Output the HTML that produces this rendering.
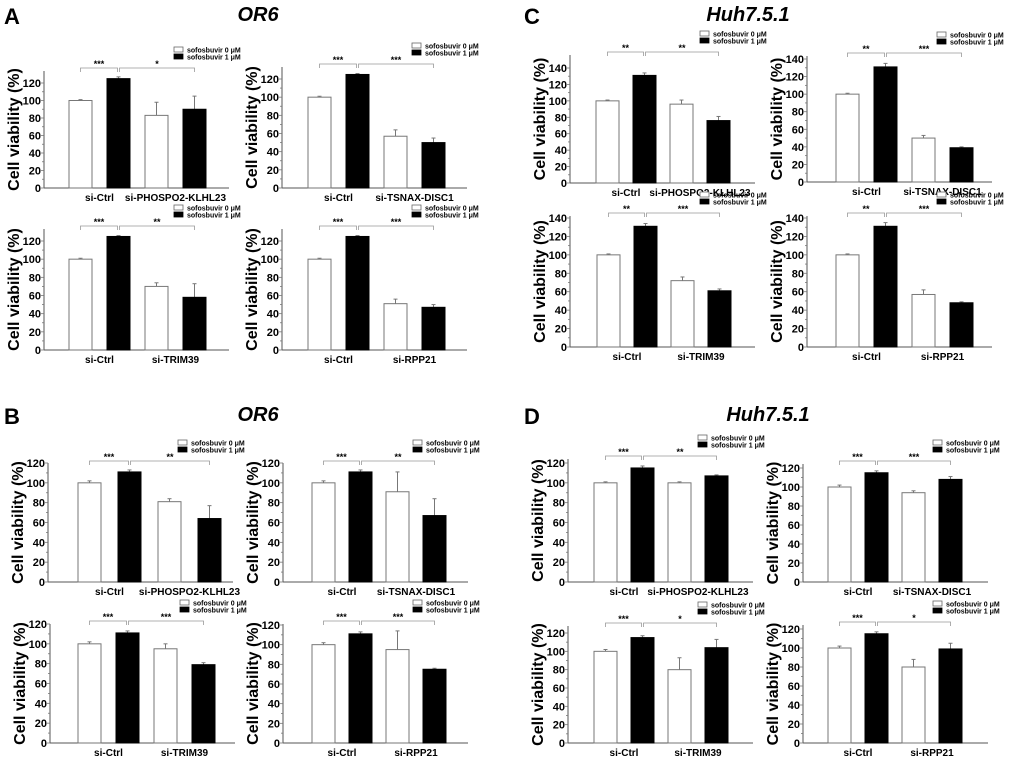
<!DOCTYPE html>
<html><head><meta charset="utf-8"><style>
html,body{margin:0;padding:0;background:#fff;}
svg{display:block;font-family:"Liberation Sans",Arial,sans-serif;}
</style></head><body>
<svg id="fig" width="1020" height="763" viewBox="0 0 1020 763">
<text x="4" y="24" font-size="22" font-weight="bold">A</text>
<text x="258" y="21" font-size="20" font-weight="bold" font-style="italic" text-anchor="middle">OR6</text>
<text x="524" y="24" font-size="22" font-weight="bold">C</text>
<text x="748" y="21" font-size="20" font-weight="bold" font-style="italic" text-anchor="middle">Huh7.5.1</text>
<text x="4" y="424" font-size="22" font-weight="bold">B</text>
<text x="258" y="421" font-size="20" font-weight="bold" font-style="italic" text-anchor="middle">OR6</text>
<text x="524" y="424" font-size="22" font-weight="bold">D</text>
<text x="768" y="421" font-size="20" font-weight="bold" font-style="italic" text-anchor="middle">Huh7.5.1</text>
</svg>
<script>
const panelNames = ["a1","a2","a3","a4","c1","c2","c3","c4","b1","b2","b3","b4","d1","d2","d3","d4"];
const groupLabels = [
 ["si-Ctrl","si-PHOSPO2-KLHL23"],["si-Ctrl","si-TSNAX-DISC1"],["si-Ctrl","si-TRIM39"],["si-Ctrl","si-RPP21"],
 ["si-Ctrl","si-PHOSPO2-KLHL23"],["si-Ctrl","si-TSNAX-DISC1"],["si-Ctrl","si-TRIM39"],["si-Ctrl","si-RPP21"],
 ["si-Ctrl","si-PHOSPO2-KLHL23"],["si-Ctrl","si-TSNAX-DISC1"],["si-Ctrl","si-TRIM39"],["si-Ctrl","si-RPP21"],
 ["si-Ctrl","si-PHOSPO2-KLHL23"],["si-Ctrl","si-TSNAX-DISC1"],["si-Ctrl","si-TRIM39"],["si-Ctrl","si-RPP21"]];
const barValues = [
 [100,125,83,90],[100,125,57,50],[100,125,70,58],[100,125,51,47],
 [100,131,96,76],[100,131,50,39],[100,131,72,61],[100,131,57,48],
 [100,111,81,64],[100,111,91,67],[100,111,95,79],[100,111,95,75],
 [100,115,100,107],[100,115,94,108],[100,115,80,104],[100,115,80,99]];
const barErrors = [
 [1,2,15,15],[1,1,7,5],[1,1,4,15],[1,1,5,3],
 [1,3,5,5],[1,4,3,1],[1,3,4,2],[1,4,5,1],
 [2,2,3,13],[2,2,20,17],[2,2,5,2],[2,2,19,1],
 [1,2,1,1],[2,2,2,3],[2,2,13,9],[2,2,8,6]];
const sigLabels = [
 ["***","*"],["***","***"],["***","**"],["***","***"],
 ["**","**"],["**","***"],["**","***"],["**","***"],
 ["***","**"],["***","**"],["***","***"],["***","***"],
 ["***","**"],["***","***"],["***","*"],["***","*"]];
const tickMaxes = [120,120,120,120,140,140,140,140,120,120,120,120,120,120,120,120];
const legendLabels = ["sofosbuvir 0 \u03bcM","sofosbuvir 1 \u03bcM"];
// layout: [axisX, zeroY, maxTickY, barOffset, barStep, bracketY]
const layout = [
 [44,188,83,25,38,68],[282,188,79,26,38,64],[44,350,241,25,38,226],[282,350,241,26,38,226],
 [570,183,68,26,37,52],[807,182,59,29,38,53],[570,347,218,27,37,213],[807,347,218,29,38,213],
 [48,582,463,30,40,461],[283,582,463,29,37,461],[50,743,624,28,38,621],[283,743,625,29,37,621],
 [568,582,463,26,37,456],[803,582,468,25,37,461],[568,743,633,26,37,623],[803,743,629,25,37,622]];
const NS="http://www.w3.org/2000/svg";
const svg=document.getElementById('fig');
function mk(tag,attrs,parent){const e=document.createElementNS(NS,tag);for(const k in attrs)e.setAttribute(k,attrs[k]);(parent||svg).appendChild(e);return e;}
panelNames.forEach((pn,p)=>{
  const [ax,y0,ytop,off,step,by]=layout[p];
  const tmax=tickMaxes[p];
  const yScale=v=>y0-(v/tmax)*(y0-ytop);
  const bw=23;
  const xBar=i=>ax+off+i*step;
  const g=mk('g',{});
  
  
  const axisTop=Math.min(by+3,ytop), axisEnd=ax+185;
  const yAxis=mk('line',{x1:ax,y1:axisTop,x2:ax,y2:y0,stroke:'#555','stroke-width':1},g);
  
  
  const xAxis=mk('line',{x1:ax,y1:y0,x2:axisEnd,y2:y0,stroke:'#555','stroke-width':1},g);
  
  
  for(let v=0;v<=tmax;v+=10){
    const y=yScale(v);
    mk('line',{x1:ax-(v%20===0?3:2),y1:y,x2:ax,y2:y,stroke:'#777','stroke-width':0.8},g);
    if(v%20===0){
      const t=mk('text',{x:ax-3,y:y+4,'font-size':11,'font-weight':'bold','text-anchor':'end'},g);
      t.textContent=v;
      
      
    }
  }
  const yt=mk('text',{x:0,y:0,'font-size':16,'font-weight':'bold','text-anchor':'middle',transform:`translate(${ax-25},${(axisTop+y0)/2}) rotate(-90)`},g);
  yt.textContent='Cell viability (%)';
  
  
  barValues[p].forEach((v,i)=>{
    const x=xBar(i), y=yScale(v);
    const e=barErrors[p][i], ye=yScale(v+e), cx=x+bw/2;
    const el=mk('line',{x1:cx,y1:y,x2:cx,y2:ye,stroke:'#777','stroke-width':1},g);
    
    
    mk('line',{x1:cx-2,y1:ye,x2:cx+2,y2:ye,stroke:'#777','stroke-width':1},g);
    const r=mk('rect',{x:x,y:y,width:bw,height:y0-y,fill:i%2?'#000':'#fff',stroke:i%2?'#000':'#777','stroke-width':1},g);
    
    
  });
  groupLabels[p].forEach((lab,k)=>{
    const cx=(xBar(2*k)+xBar(2*k+1)+bw)/2;
    const t=mk('text',{x:cx,y:y0+13,'font-size':10,'font-weight':'bold','text-anchor':'middle'},g);
    t.textContent=lab;
    
    
  });
  const pairs=[[0,1],[1,3]];
  pairs.forEach((pr,k)=>{
    const x1=xBar(pr[0])+bw/2+(k===1?1:0), x2=xBar(pr[1])+bw/2-(k===0?1:0);
    const b=mk('path',{d:`M${x1},${by+4}V${by}H${x2}V${by+4}`,fill:'none',stroke:'#999','stroke-width':0.8},g);
    
    
    const s=mk('text',{x:(x1+x2)/2,y:by-1,'font-size':9,'font-weight':'bold','text-anchor':'middle'},g);
    s.textContent=sigLabels[p][k];
    
    
  });
  const lx=ax+130, ly=by-21;
  legendLabels.forEach((lab,k)=>{
    const lg=mk('g',{},g);
    
    
    mk('rect',{x:lx,y:ly+k*7,width:9,height:5,fill:k?'#000':'#fff',stroke:k?'#000':'#666','stroke-width':0.8},lg);
    const t=mk('text',{x:lx+13,y:ly+k*7+5.5,'font-size':7,'font-weight':'bold'},lg);
    t.textContent=lab;
  });
});
</script>
</body></html>
